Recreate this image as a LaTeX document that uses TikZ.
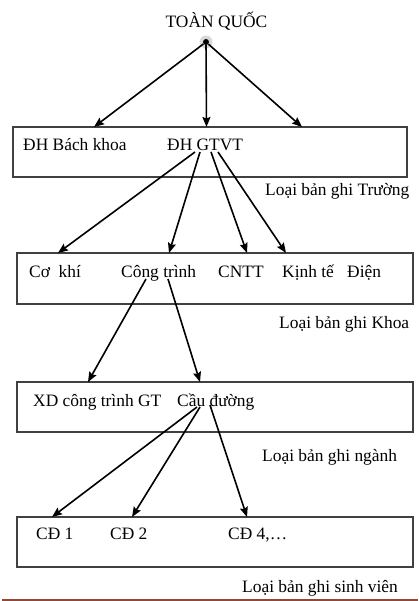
\documentclass[tikz,border=0pt]{standalone}
\usepackage{fontspec}
\setmainfont{Liberation Serif}
\usetikzlibrary{arrows.meta}
\definecolor{rulebrown}{RGB}{150,70,50}
\begin{document}
\begin{tikzpicture}[x=1pt,y=-1pt,
  lbl/.style={anchor=base west,inner sep=0pt,font=\fontsize{17.4}{20}\selectfont},
  box/.style={draw=black!75,line width=1.1pt,anchor=north west,inner sep=0pt,outer sep=0pt,minimum width=396pt,minimum height=50pt},
  arr/.style={line width=1.6pt,-{Stealth[length=10pt,width=8pt,inset=1.5pt]}}]
\useasboundingbox (0,0) rectangle (418,601);

% title and root dot
\node[lbl,anchor=base] (root) at (216.5,28) {TOÀN QUỐC};
\fill[gray!30] (206,42) circle[radius=6.5pt];
\node[circle,inner sep=0pt,minimum size=6pt] (dot) at (206,42) {};

% boxes
\node[box,minimum width=394pt] (b1) at (13,127) {};
\node[box,minimum height=51pt] (b2) at (17,253) {};
\node[box] (b3) at (17,382) {};
\node[box] (b4) at (17,517) {};

% level 1
\node[lbl] (bk) at (23,151) {ĐH Bách khoa};
\node[lbl] (gt) at (167,151) {ĐH GTVT};
\node[lbl] (lt) at (265,196) {Loại bản ghi Trường};

% level 2
\node[lbl] (ck) at (29,277) {Cơ\ \ khí};
\node[lbl] (ct) at (121,277) {Công trình};
\node[lbl] (cn) at (218,277) {CNTT};
\node[lbl] (kt) at (282,277) {Kịnh tế};
\node[lbl] (di) at (347,277) {Điện};
\node[lbl] (lk) at (279,328) {Loại bản ghi Khoa};

% level 3
\node[lbl] (xd) at (33,406) {XD công trình GT};
\node[lbl] (cd) at (177,406) {Cầu đường};
\node[lbl] (ln) at (262,461) {Loại bản ghi ngành};

% level 4
\node[lbl] (c1) at (36,539) {CĐ 1};
\node[lbl] (c2) at (110,539) {CĐ 2};
\node[lbl] (c4) at (228,539) {CĐ 4,…};
\node[lbl] (ls) at (242,592) {Loại bản ghi sinh viên};

% connector end points
\coordinate (t1a) at (94,127);
\coordinate (t1b) at (206.5,127);
\coordinate (t1c) at (302,127);

\coordinate (s2a) at (195,152);
\coordinate (s2b) at (200,152);
\coordinate (s2c) at (211,152);
\coordinate (s2d) at (218,152);
\coordinate (t2a) at (58,253);
\coordinate (t2b) at (169,253);
\coordinate (t2c) at (247,253);
\coordinate (t2d) at (286,253);

\coordinate (s3a) at (146,279);
\coordinate (s3b) at (168,279);
\coordinate (t3a) at (88,382);
\coordinate (t3b) at (200,382);

\coordinate (s4a) at (197,407);
\coordinate (s4b) at (200,407);
\coordinate (s4c) at (210,405);
\coordinate (t4a) at (52,517);
\coordinate (t4b) at (132,517);
\coordinate (t4c) at (247,517);

\coordinate (r1) at (2,600);
\coordinate (r2) at (418,600);

% connectors
\draw[arr] (dot) -- (t1a);
\draw[arr] (dot) -- (t1b);
\draw[arr] (dot) -- (t1c);
\fill[black] (dot.center) circle[radius=3pt];

\draw[arr] (s2a) -- (t2a);
\draw[arr] (s2b) -- (t2b);
\draw[arr] (s2c) -- (t2c);
\draw[arr] (s2d) -- (t2d);

\draw[arr] (s3a) -- (t3a);
\draw[arr] (s3b) -- (t3b);

\draw[arr] (s4a) -- (t4a);
\draw[arr] (s4b) -- (t4b);
\draw[arr] (s4c) -- (t4c);

% bottom rule
\draw[rulebrown,line width=2pt] (r1) -- (r2);
\end{tikzpicture}
\end{document}
